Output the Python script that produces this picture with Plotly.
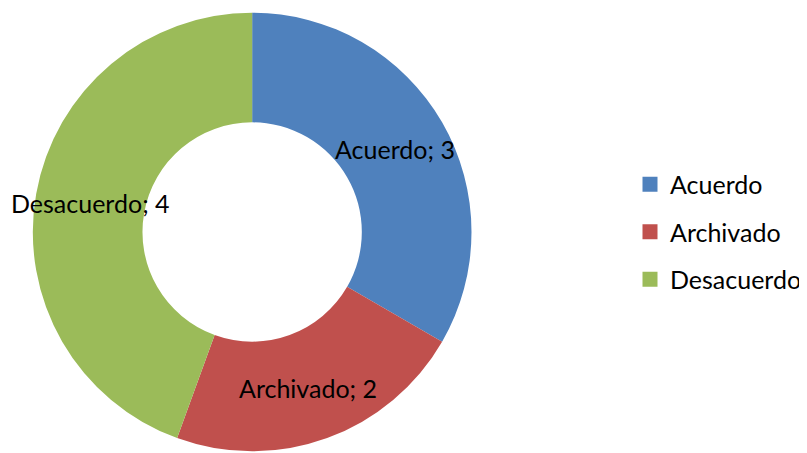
import math
import plotly.graph_objects as go

categories = ["Acuerdo", "Archivado", "Desacuerdo"]
values = [3, 2, 4]
colors = ["#4F81BD", "#C0504D", "#9BBB59"]

FONT = "Lato"
FS = 25

# figure geometry (page body has an 8px margin, so figure is 799x445)
W, H = 799, 445
MT = 3
PH = H - MT          # plotting height
R = PH / 2           # pie outer radius in px
HOLE = 0.5
CX = 246             # pie center x in figure px
CY = MT + R          # pie center y in figure px

fig = go.Figure()
fig.add_trace(go.Pie(
    labels=categories,
    values=values,
    hole=HOLE,
    sort=False,
    direction="clockwise",
    rotation=0,
    marker=dict(colors=colors, line=dict(width=0)),
    textinfo="none",
    domain=dict(x=[(CX - R) / W, (CX + R) / W], y=[0, 1]),
    showlegend=False,
    hoverinfo="label+value+percent",
))

# slice labels placed on the middle of the ring along each slice bisector
total = sum(values)
rm = R * (1 + HOLE) / 2
cum = 0
for c, v in zip(categories, values):
    ang = (cum + v / 2) / total * 2 * math.pi
    cum += v
    px = CX + rm * math.sin(ang)
    py = CY - rm * math.cos(ang)
    fig.add_annotation(
        x=px / W, y=1 - (py - MT) / PH, xref="paper", yref="paper",
        text=f"{c}; {v}", showarrow=False,
        xanchor="center", yanchor="middle",
        font=dict(family=FONT, size=FS, color="black"),
    )

for c, col in zip(categories, colors):
    fig.add_trace(go.Scatter(
        x=[None], y=[None], mode="markers",
        marker=dict(symbol="square", size=15, color=col),
        name=c, legendgroup=c, showlegend=True,
    ))

fig.update_layout(
    width=W, height=H,
    margin=dict(l=0, r=0, t=MT, b=0),
    paper_bgcolor="white",
    plot_bgcolor="white",
    font=dict(family=FONT, size=FS, color="black"),
    xaxis=dict(visible=False),
    yaxis=dict(visible=False),
    legend=dict(
        x=627 / W, xanchor="left",
        y=0.5, yanchor="middle",
        font=dict(family=FONT, size=FS, color="black"),
        tracegroupgap=12,
        itemsizing="trace",
        bgcolor="rgba(0,0,0,0)",
    ),
)

fig.write_html("out.html")
